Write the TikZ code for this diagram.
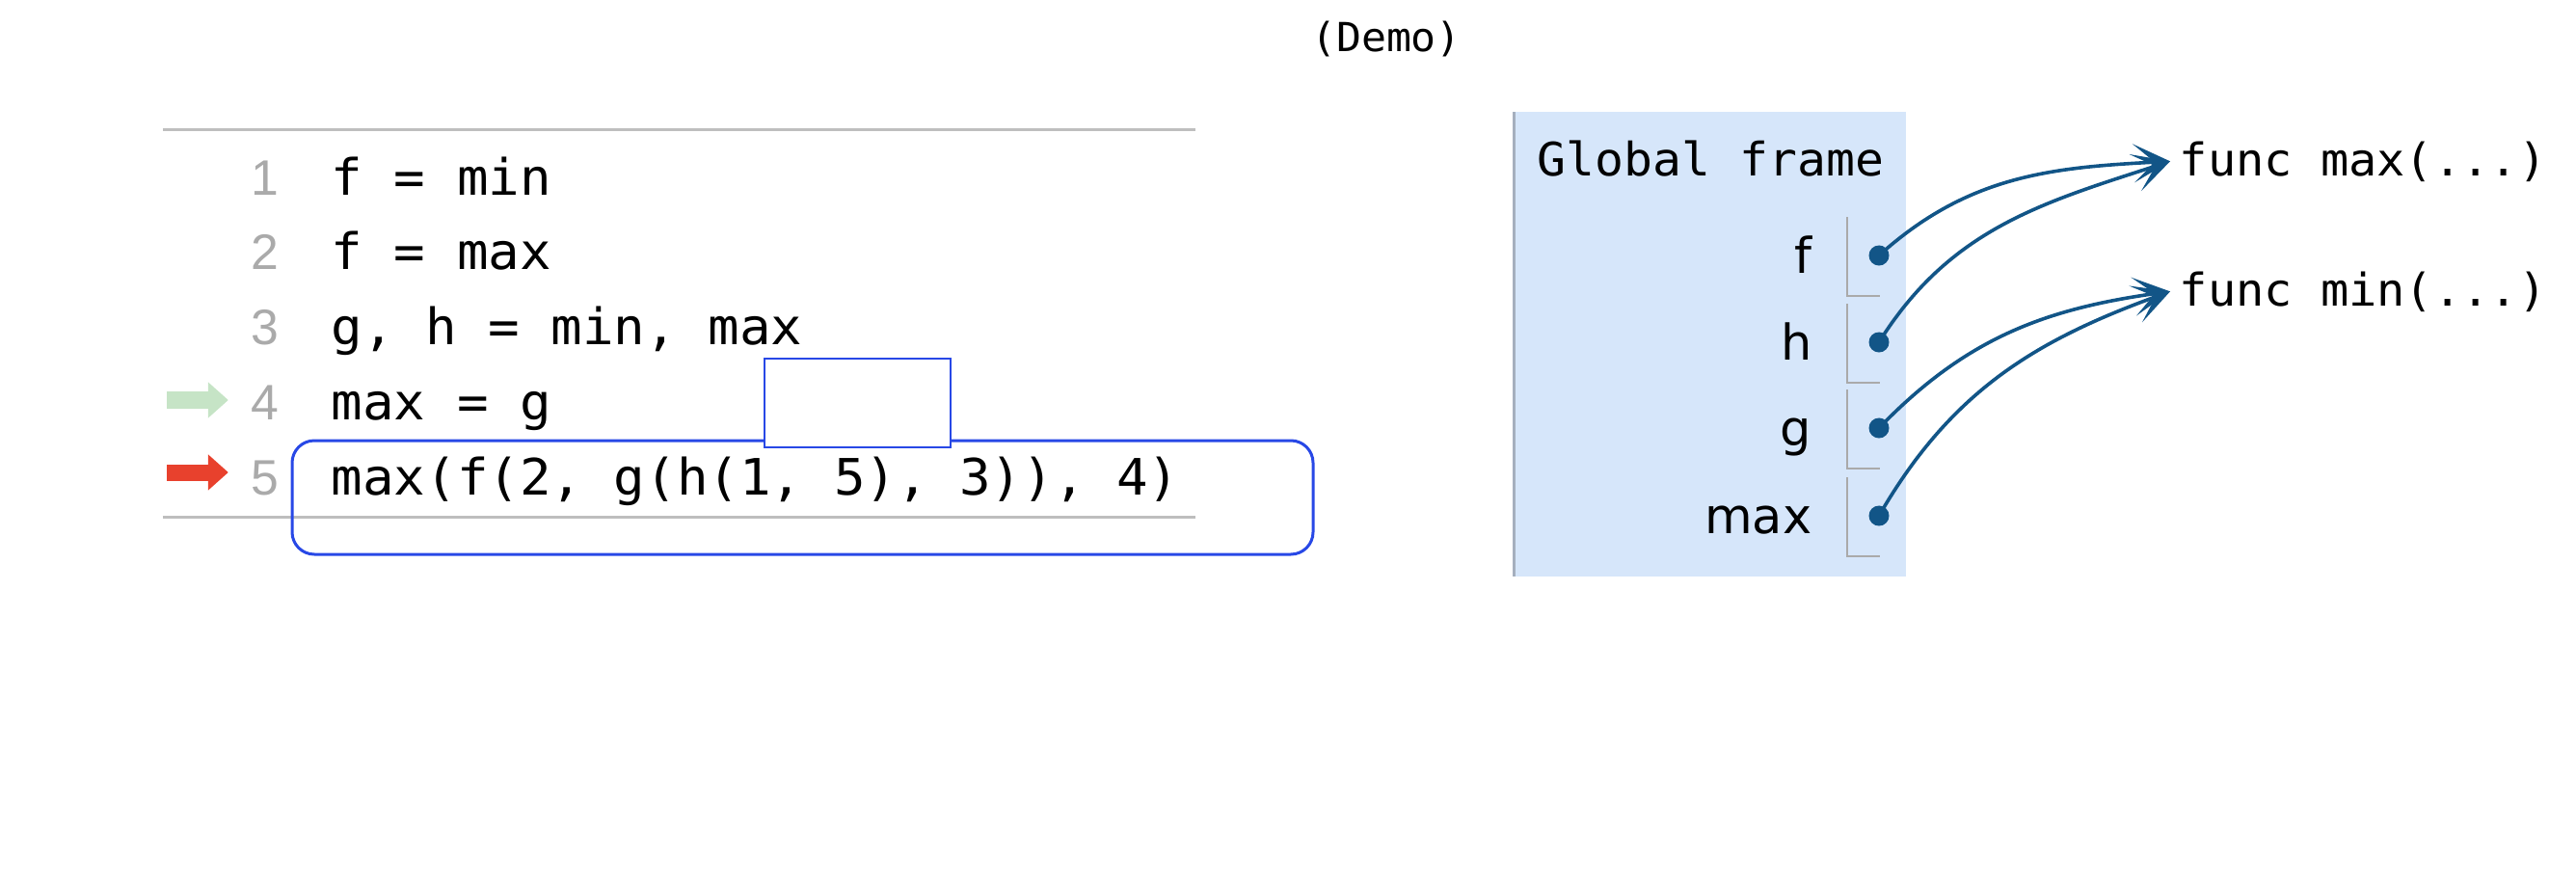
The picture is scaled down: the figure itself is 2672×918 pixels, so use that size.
\documentclass[tikz,border=0pt]{standalone}
\usepackage{fontspec}
\setmonofont{DejaVu Sans Mono}[FakeStretch=1.04]
\newfontfamily\varfont{DejaVu Sans}
\newfontfamily\numfont{Liberation Sans}
\usetikzlibrary{arrows.meta}

\definecolor{ptrblue}{RGB}{18,85,135}
\definecolor{framebg}{RGB}{214,230,250}
\definecolor{frameedge}{RGB}{165,175,190}
\definecolor{boxblue}{RGB}{40,72,230}
\definecolor{rulegray}{RGB}{190,190,190}
\definecolor{numgray}{RGB}{170,170,170}
\definecolor{prevgreen}{RGB}{198,228,198}
\definecolor{curred}{RGB}{232,65,45}

\begin{document}
\begin{tikzpicture}[x=0.01cm, y=-0.01cm,
  code/.style={anchor=base west, inner sep=0pt, font=\ttfamily\fontsize{14.8}{16}\selectfont},
  lineno/.style={anchor=base east, inner sep=0pt, text=numgray, font=\numfont\fontsize{14.7}{16}\selectfont},
  var/.style={anchor=base east, inner sep=0pt, font=\varfont\fontsize{14.5}{16}\selectfont},
  obj/.style={anchor=base west, inner xsep=0.09cm, inner ysep=0pt, font=\ttfamily\fontsize{13.3}{16}\selectfont},
  ptr/.style={circle, fill=ptrblue, inner sep=0pt, minimum size=0.21cm},
  ref/.style={-{Stealth[length=0.38cm, width=0.4cm, inset=0.22cm]}, ptrblue, line width=0.036cm},
  pc/.style={-{Triangle[length=0.21cm, width=0.36cm]}, line width=0.17cm, shorten >=0.23cm},
  cell/.style={numgray, line width=0.02cm}]
  \useasboundingbox (0,0) rectangle (2672,918);

  \node[anchor=base, font=\ttfamily\fontsize{11.8}{13}\selectfont] (demo) at (1438,53) {(Demo)};

  % code
  \draw[rulegray, line width=0.03cm] (169,134) -- (1240,134);
  \draw[rulegray, line width=0.03cm] (169,536) -- (1240,536);
  \node[lineno] (n1) at (290,202) {1};
  \node[lineno] (n2) at (290,279) {2};
  \node[lineno] (n3) at (290,357) {3};
  \node[lineno] (n4) at (290,435) {4};
  \node[lineno] (n5) at (290,513) {5};
  \node[code] (l1) at (343,202) {f = min};
  \node[code] (l2) at (343,279) {f = max};
  \node[code] (l3) at (343,357) {g, h = min, max};
  \node[code] (l4) at (343,435) {max = g};
  \node[code] (l5) at (343,513) {max(f(2, g(h(1, 5), 3)), 4)};
  \coordinate (prev) at (173,415);
  \coordinate (cur) at (173,490);
  \draw[pc, prevgreen] (prev) -- (prev -| n4.west);
  \draw[pc, curred] (cur) -- (cur -| n5.west);
  \draw[boxblue, line width=0.03cm, rounded corners=0.23cm] (303,457) rectangle (1362,575);
  \draw[boxblue, line width=0.025cm, fill=white] (793,372) rectangle (986,464);

  % frame
  \fill[framebg] (1570,116) rectangle (1977,598);
  \draw[frameedge, line width=0.03cm] (1570,116) -- (1570,598);
  \node[anchor=base east, inner sep=0pt, font=\ttfamily\fontsize{13.6}{16}\selectfont] (gf) at (1955,182) {Global frame};
  \node[var] (vf) at (1880,283) {f};
  \node[var] (vh) at (1880,373) {h};
  \node[var] (vg) at (1880,462) {g};
  \node[var] (vmax) at (1880,553) {max};
  \foreach \y in {265,355,444,535}
    \draw[cell] (1916,\y-40) -- (1916,\y+42) -- (1950,\y+42);
  \node[ptr] (pf) at (1949,265) {};
  \node[ptr] (ph) at (1949,355) {};
  \node[ptr] (pg) at (1949,444) {};
  \node[ptr] (pmax) at (1949,535) {};

  % objects
  \node[obj] (fmax) at (2251,182) {func max(...)};
  \node[obj] (fmin) at (2251,317) {func min(...)};
  \draw[ref] (pf.center) to[out=42, in=183] (fmax.west);
  \draw[ref] (ph.center) to[out=58, in=198] (fmax.west);
  \draw[ref] (pg.center) to[out=46, in=188] (fmin.west);
  \draw[ref] (pmax.center) to[out=60, in=200] (fmin.west);
\end{tikzpicture}
\end{document}
